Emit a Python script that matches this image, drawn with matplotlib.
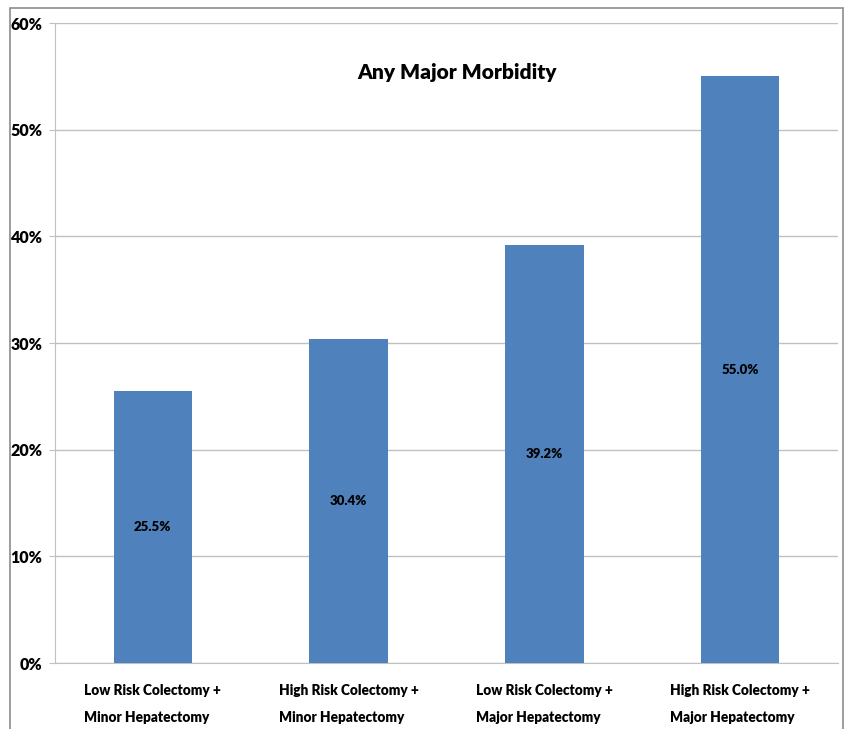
import matplotlib
matplotlib.use("Agg")
import matplotlib.pyplot as plt
from matplotlib.patches import Rectangle
from matplotlib.ticker import FuncFormatter, MultipleLocator

categories = [
    "Low Risk Colectomy +\nMinor Hepatectomy",
    "High Risk Colectomy +\nMinor Hepatectomy",
    "Low Risk Colectomy +\nMajor Hepatectomy",
    "High Risk Colectomy +\nMajor Hepatectomy",
]
morbidity_pct = [25.5, 30.4, 39.2, 55.0]
title = "Any Major Morbidity"

FONT = ["Lato", "DejaVu Sans"]
WEIGHT = "heavy"
plt.rcParams["font.family"] = FONT
plt.rcParams["font.weight"] = WEIGHT

W, H = 845, 729
fig = plt.figure(figsize=(W / 100, H / 100), dpi=100)
fig.patch.set_facecolor("white")

# outer chart-area border
fig.add_artist(Rectangle((10 / W, -0.01), (843 - 10) / W, 1.01 - 8 / H,
                         transform=fig.transFigure, fill=False,
                         edgecolor="#8c8c8c", linewidth=1.2))

ax = fig.add_axes([55 / W, (H - 663) / H, (838 - 55) / W, (663 - 23) / H])

x = range(len(categories))
bars = ax.bar(x, morbidity_pct, width=0.40, color="#4F81BD", zorder=3)

for rect, v in zip(bars, morbidity_pct):
    ax.text(rect.get_x() + rect.get_width() / 2, v / 2, f"{v:.1f}%",
            ha="center", va="center", fontsize=9.5, fontweight=WEIGHT,
            color="black", zorder=4)

ax.set_xlim(-0.5, len(categories) - 0.5)
ax.set_ylim(0, 60)
ax.yaxis.set_major_locator(MultipleLocator(10))
ax.yaxis.set_major_formatter(FuncFormatter(lambda v, _: f"{v:.0f}%"))
ax.grid(axis="y", color="#c0c0c0", linewidth=1.0, zorder=0)

ax.set_xticks(list(x))
ax.set_xticklabels(categories, fontsize=9.8, fontweight=WEIGHT,
                   multialignment="left", linespacing=2.3)
ax.tick_params(axis="x", length=0, pad=15)
ax.tick_params(axis="y", length=4, color="#c0c0c0", labelsize=11.5, pad=5)
for lbl in ax.get_yticklabels():
    lbl.set_fontweight(WEIGHT)

for s in ["top", "right"]:
    ax.spines[s].set_visible(False)
ax.spines["left"].set_color("#c0c0c0")
ax.spines["bottom"].set_color("#c0c0c0")

ax.text(0.513, 0.923, title, transform=ax.transAxes, ha="center",
        va="center", fontsize=15, fontweight=WEIGHT, color="black")

fig.savefig("out.png", dpi=100, facecolor="white")
